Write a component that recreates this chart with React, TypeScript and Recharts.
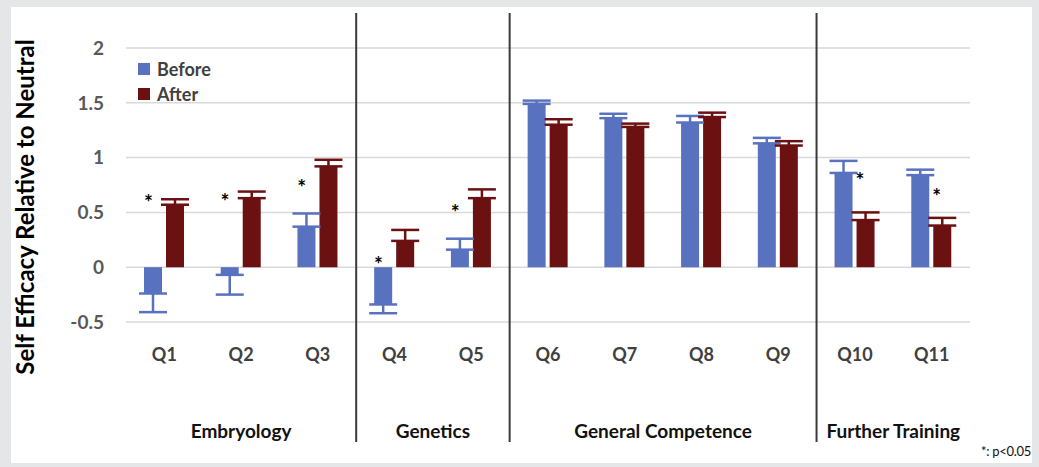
import {
  ComposedChart, Bar, ErrorBar, Scatter, XAxis, YAxis, CartesianGrid, ReferenceLine, Label,
} from 'recharts'

// ─── Data ────────────────────────────────────────────────────────────────────

const questions = ['Q1', 'Q2', 'Q3', 'Q4', 'Q5', 'Q6', 'Q7', 'Q8', 'Q9', 'Q10', 'Q11']
const before = [-0.24, -0.07, 0.37, -0.34, 0.16, 1.49, 1.36, 1.32, 1.13, 0.86, 0.84]
const beforeErr = [0.17, 0.18, 0.12, 0.08, 0.1, 0.03, 0.04, 0.06, 0.05, 0.11, 0.05]
const after = [0.57, 0.63, 0.92, 0.24, 0.63, 1.3, 1.28, 1.37, 1.11, 0.43, 0.38]
const afterErr = [0.05, 0.06, 0.06, 0.1, 0.08, 0.05, 0.03, 0.04, 0.04, 0.07, 0.07]

// heights of the significance asterisks (p<0.05)
const sigLeft = [0.62, 0.63, 0.76, 0.06, 0.53, null, null, null, null, null, null]
const sigRight = [null, null, null, null, null, null, null, null, null, 0.82, 0.68]

const groupNames = ['Embryology', 'Genetics', 'General Competence', 'Further Training']
const groupSizes = [3, 2, 4, 2]
const groupEnds = ['Q3', 'Q5', 'Q9']

const yTicks = [-0.5, 0, 0.5, 1, 1.5, 2]

const BLUE = '#5872C0'
const MAROON = '#6B1111'
const FONT = 'Lato, "Open Sans", sans-serif'

// error bars only point away from zero, like the original
const dados = questions.map((q, i) => ({
  q,
  before: before[i],
  after: after[i],
  beforeErr: before[i] < 0 ? [beforeErr[i], 0] : [0, beforeErr[i]],
  afterErr: after[i] < 0 ? [afterErr[i], 0] : [0, afterErr[i]],
  sigLeft: sigLeft[i],
  sigRight: sigRight[i],
}))

const groupStart: Record<number, number> = {}
groupSizes.reduce((acc, n, g) => {
  groupStart[acc] = g
  return acc + n
}, 0)

// ─── Pieces ──────────────────────────────────────────────────────────────────

function QTick(props: any) {
  const { x, y, payload } = props
  const idx = payload.index
  const band = payload.offset > 0 ? payload.offset * 2 : 76.7
  const g = groupStart[idx]
  return (
    <g>
      <text x={x} y={y + 31} textAnchor="middle" fontFamily={FONT} fontWeight={700} fontSize={18} fill="#404040">
        {payload.value}
      </text>
      {g !== undefined && (
        <text
          x={x + ((groupSizes[g] - 1) * band) / 2}
          y={y + 108}
          textAnchor="middle"
          fontFamily={FONT}
          fontWeight={700}
          fontSize={19}
          fill="#111"
        >
          {groupNames[g]}
        </text>
      )}
    </g>
  )
}

function Asterisk(dx: number) {
  return (p: any) => {
    if (p.cy == null || Number.isNaN(p.cy)) return <g />
    return (
      <text x={p.cx + dx} y={p.cy + 11} textAnchor="middle" fontSize={21} fontWeight={700} fill="#000" fontFamily={FONT}>
        *
      </text>
    )
  }
}

function LegendBox() {
  const items = [
    { label: 'Before', color: BLUE },
    { label: 'After', color: MAROON },
  ]
  return (
    <div style={{ position: 'absolute', left: 138, top: 56, fontFamily: FONT }}>
      {items.map((it) => (
        <div key={it.label} style={{ display: 'flex', alignItems: 'center', height: 25 }}>
          <span style={{ width: 12, height: 12, background: it.color, marginRight: 7 }} />
          <span style={{ fontSize: 18, fontWeight: 700, color: '#404040' }}>{it.label}</span>
        </div>
      ))}
    </div>
  )
}

function Separator(p: any) {
  return <line x1={p.x1} x2={p.x2} y1={13} y2={442} stroke="#3a3a3a" strokeWidth={2} />
}

export default function App() {
  return (
    <div style={{ position: 'absolute', left: 0, top: 0, width: 1039, height: 467, background: '#e5e6e8' }}>
      <div style={{ position: 'absolute', left: 11, top: 7, width: 1021, height: 456, background: '#fff' }} />
      <div style={{ position: 'absolute', left: 0, top: 0 }}>
        <ComposedChart
          width={1039}
          height={467}
          data={dados}
          margin={{ top: 48, right: 69, left: 46, bottom: 25 }}
          barSize={18}
          barGap={4}
        >
          <CartesianGrid vertical={false} stroke="#d9d9d9" strokeWidth={1.5} />
          <XAxis dataKey="q" axisLine={false} tickLine={false} height={120} tick={<QTick />} interval={0} />
          <YAxis
            domain={[-0.5, 2]}
            ticks={yTicks}
            axisLine={false}
            tickLine={false}
            width={80}
            tickMargin={16}
            tick={{ fontSize: 19, fontWeight: 700, fill: '#595959', fontFamily: FONT }}
          >
            <Label
              content={() => (
                <text
                  x={24}
                  y={207}
                  transform="rotate(-90 24 207)"
                  textAnchor="middle"
                  dominantBaseline="central"
                  fontFamily={FONT}
                  fontWeight={700}
                  fontSize={24}
                  fill="#000"
                >
                  Self Efficacy Relative to Neutral
                </text>
              )}
            />
          </YAxis>
          {groupEnds.map((q) => (
            <ReferenceLine key={q} x={q} position="end" shape={<Separator />} />
          ))}
          <Bar dataKey="before" name="Before" fill={BLUE} isAnimationActive={false}>
            <ErrorBar dataKey="beforeErr" direction="y" width={14} stroke={BLUE} strokeWidth={2.5} />
          </Bar>
          <Bar dataKey="after" name="After" fill={MAROON} isAnimationActive={false}>
            <ErrorBar dataKey="afterErr" direction="y" width={14} stroke={MAROON} strokeWidth={2.5} />
          </Bar>
          <Scatter dataKey="sigLeft" shape={Asterisk(-16)} isAnimationActive={false} legendType="none" />
          <Scatter dataKey="sigRight" shape={Asterisk(5)} isAnimationActive={false} legendType="none" />
        </ComposedChart>
      </div>
      <LegendBox />
      <div
        style={{
          position: 'absolute',
          right: 8,
          top: 443,
          fontFamily: FONT,
          fontSize: 13,
          letterSpacing: -0.3,
          color: '#111',
        }}
      >
        *: p&lt;0.05
      </div>
    </div>
  )
}
